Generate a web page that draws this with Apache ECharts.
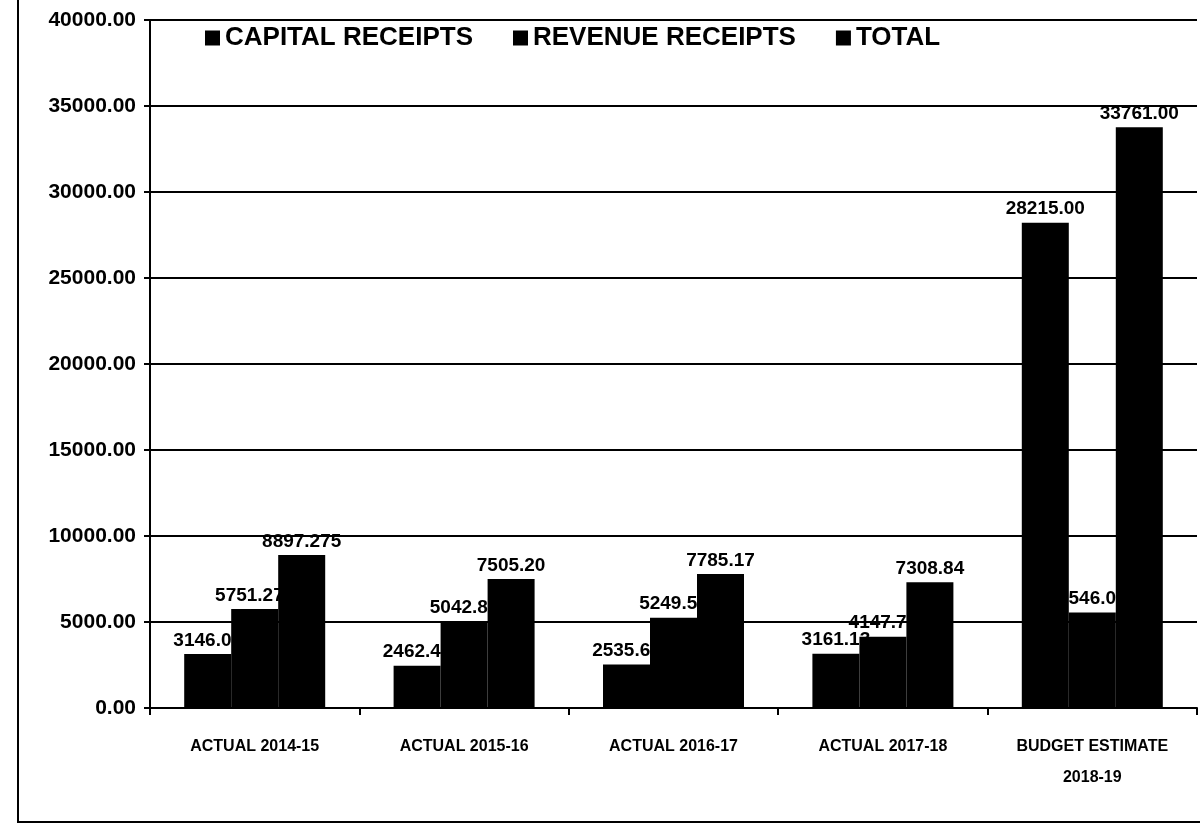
<!DOCTYPE html>
<html>
<head>
<meta charset="utf-8">
<title>Receipts</title>
<script src="https://cdn.jsdelivr.net/npm/echarts@6/dist/echarts.min.js"></script>
<style>
  html, body { margin: 0; padding: 0; background: #fff; }
  #chart { width: 1200px; height: 834px; }
</style>
</head>
<body>
<div id="chart"></div>
<script>
// data
const categories = ['ACTUAL 2014-15', 'ACTUAL 2015-16', 'ACTUAL 2016-17', 'ACTUAL 2017-18', 'BUDGET ESTIMATE\n2018-19'];
const capitalReceipts = [3146.00, 2462.40, 2535.62, 3161.13, 28215.00];
const revenueReceipts = [5751.275, 5042.80, 5249.55, 4147.71, 5546.00];
const totalReceipts = [8897.275, 7505.20, 7785.17, 7308.84, 33761.00];
const seriesNames = ['CAPITAL RECEIPTS', 'REVENUE RECEIPTS', 'TOTAL'];

const font = '"Liberation Sans Narrow", "Liberation Sans", Arial, sans-serif';

const chart = echarts.init(document.getElementById('chart'));

// 至少两位小数
const fmt = v => {
  const s = String(v);
  const dec = s.indexOf('.') < 0 ? 0 : s.length - s.indexOf('.') - 1;
  return dec > 2 ? s : v.toFixed(2);
};

// 数值标签
const labelCfg = {
  show: true,
  position: 'top',
  color: '#000',
  fontFamily: font,
  fontWeight: 'bold',
  fontSize: 19,
  distance: 4,
  formatter: p => fmt(p.value)
};

const makeBar = (name, data) => ({
  name: name,
  type: 'bar',
  data: data,
  barWidth: 47,
  barGap: '0%',
  itemStyle: { color: '#000' },
  label: labelCfg
});

const option = {
  animation: false,
  backgroundColor: '#fff',
  legend: {
    top: 20,
    left: 200,
    itemWidth: 15,
    itemHeight: 15,
    itemGap: 40,
    icon: 'rect',
    textStyle: { color: '#000', fontFamily: font, fontWeight: 'bold', fontSize: 26 },
    data: seriesNames
  },
  grid: { left: 150, right: 3, top: 20, bottom: 126 },
  xAxis: {
    type: 'category',
    data: categories,
    axisLine: { lineStyle: { color: '#000', width: 2 } },
    axisTick: { show: true, interval: 0, length: 7, lineStyle: { color: '#000', width: 2 } },
    axisLabel: {
      interval: 0,
      color: '#000',
      fontFamily: font,
      fontWeight: 'bold',
      fontSize: 16,
      margin: 23,
      lineHeight: 31
    }
  },
  yAxis: {
    type: 'value',
    min: 0,
    max: 40000,
    interval: 5000,
    axisLine: { show: true, lineStyle: { color: '#000', width: 2 } },
    axisTick: { show: true, length: 6, lineStyle: { color: '#000', width: 2 } },
    splitLine: { lineStyle: { color: '#000', width: 2 } },
    axisLabel: {
      color: '#000',
      fontFamily: font,
      fontWeight: 'bold',
      fontSize: 21,
      margin: 14,
      formatter: v => v.toFixed(2)
    }
  },
  graphic: [
    {
      type: 'polyline',
      shape: { points: [[18, 0], [18, 822], [1200, 822]] },
      style: { stroke: '#000', lineWidth: 2, fill: null }
    }
  ],
  series: [
    makeBar(seriesNames[0], capitalReceipts),
    makeBar(seriesNames[1], revenueReceipts),
    makeBar(seriesNames[2], totalReceipts)
  ]
};

chart.setOption(option);
</script>
</body>
</html>
